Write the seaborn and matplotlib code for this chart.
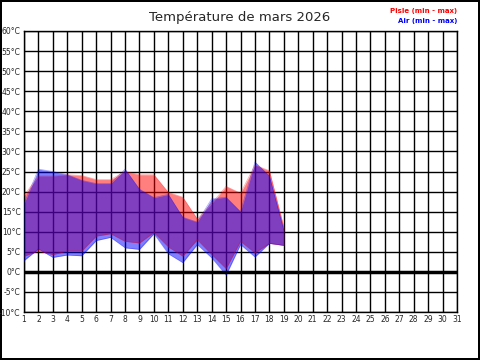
import numpy as np
import pandas as pd
import matplotlib
matplotlib.use("Agg")
import matplotlib.pyplot as plt
import seaborn as sns

# temperatures, march 2026 (days 1..19)
days = list(range(1, 20))
pisle_max = [19.0, 23.9, 23.9, 24.2, 24.0, 23.0, 23.0, 25.0, 24.2, 24.2,
             19.8, 18.6, 13.2, 17.0, 21.3, 19.6, 26.6, 25.2, 11.2]
pisle_min = [3.9, 5.2, 4.3, 5.2, 5.2, 8.9, 9.5, 7.6, 7.2, 9.8,
             6.2, 3.9, 8.0, 4.3, 0.8, 7.6, 4.7, 7.1, 6.6]
air_max = [17.0, 25.6, 25.0, 24.2, 22.8, 22.0, 22.0, 25.6, 20.6, 18.5,
           19.3, 13.6, 12.4, 18.2, 18.6, 15.0, 27.4, 23.9, 10.4]
air_min = [2.8, 5.7, 3.6, 4.2, 4.0, 7.8, 8.6, 6.0, 5.6, 9.5,
           4.5, 2.3, 6.8, 3.5, -0.8, 6.8, 3.7, 7.1, 6.6]

month_days = list(range(1, 32))
y_ticks = list(range(-10, 61, 5))

df = pd.DataFrame({'day': days, 'pisle_max': pisle_max, 'pisle_min': pisle_min,
                   'air_max': air_max, 'air_min': air_min})

sns.set_style("white")
plt.rcParams['font.family'] = ['DejaVu Sans']

fig = plt.figure(figsize=(4.8, 3.6), dpi=100, linewidth=1.5, edgecolor='black')
ax = fig.add_axes([24/480, 1-312/360, (457-24)/480, (312-31)/360])

# grid
for d in month_days:
    ax.axvline(d, color='black', lw=1.0, zorder=1)
for v in y_ticks:
    ax.axhline(v, color='black', lw=1.0, zorder=1)

ax.fill_between(df.day, df.pisle_min, df.pisle_max, color='red', alpha=0.5, lw=0, zorder=2)
ax.fill_between(df.day, df.air_min, df.air_max, color='blue', alpha=0.5, lw=0, zorder=3)
for col, c in [('pisle_max', 'red'), ('pisle_min', 'red'), ('air_max', 'blue'), ('air_min', 'blue')]:
    sns.lineplot(x='day', y=col, data=df, color=c, alpha=0.35, lw=0.5, ax=ax, zorder=3)

ax.axhline(0, color='black', lw=2.5, zorder=4)

ax.set_xlim(1, 31)
ax.set_ylim(-10, 60)
ax.set_xticks(month_days)
ax.set_xticklabels([str(d) for d in month_days], fontsize=5.5)
ax.set_yticks(y_ticks)
ax.set_yticklabels([f"{v}°C" for v in y_ticks], fontsize=5.5)
ax.tick_params(length=0, pad=2.5)
ax.set_xlabel('')
ax.set_ylabel('')
for s in ax.spines.values():
    s.set_color('black')
    s.set_linewidth(1.0)

fig.text(0.5, 1-17/360, "Température de mars 2026", ha='center', va='center', fontsize=9.5)
fig.text(457/480, 1-11/360, "Pisle (min - max)", ha='right', va='center',
         fontsize=5, color='red', fontweight='bold')
fig.text(457/480, 1-21/360, "Air (min - max)", ha='right', va='center',
         fontsize=5, color='blue', fontweight='bold')

plt.savefig('out.png', dpi=100, edgecolor=fig.get_edgecolor())
plt.close()
